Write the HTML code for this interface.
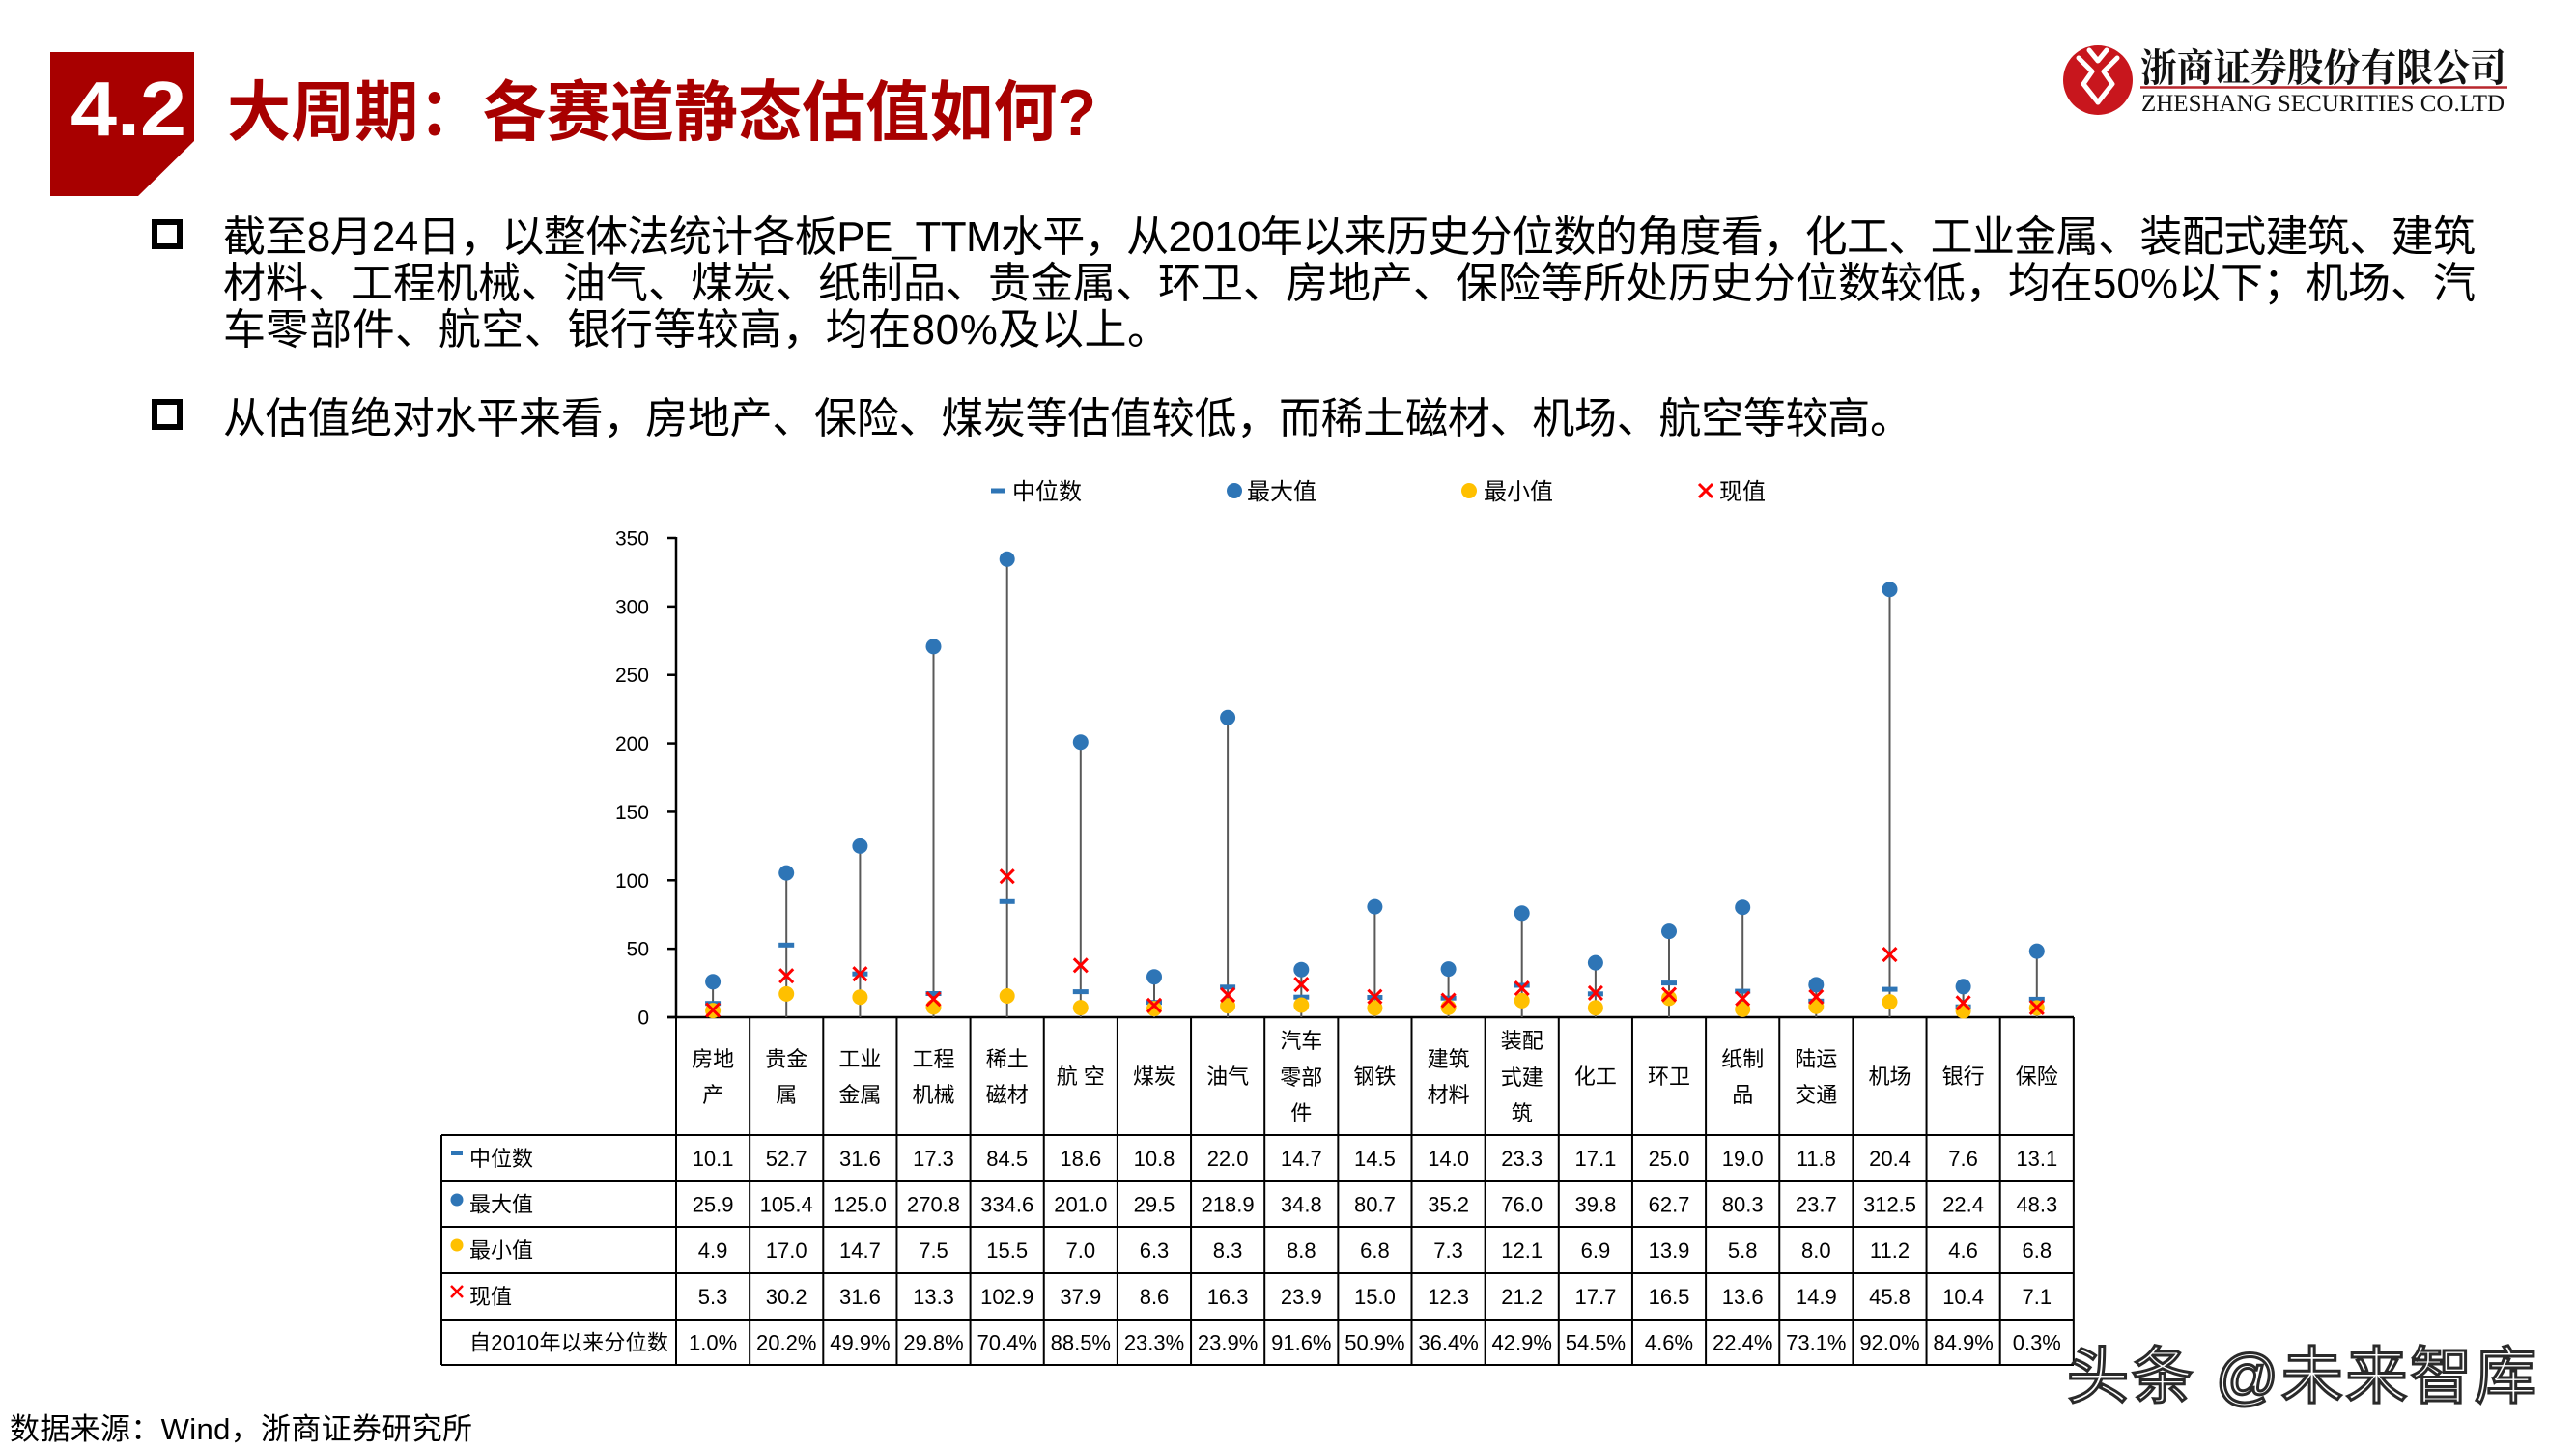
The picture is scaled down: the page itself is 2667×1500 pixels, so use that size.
<!DOCTYPE html>
<html>
<head>
<meta charset="utf-8">
<style>
  html,body{margin:0;padding:0;background:#fff;}
  svg{display:block;}
  .cjk{font-family:"Liberation Sans","Noto Sans CJK SC",sans-serif;}
</style>
</head>
<body>
<svg width="2667" height="1500" viewBox="0 0 2667 1500" xmlns="http://www.w3.org/2000/svg" font-family="Liberation Sans, Noto Sans CJK SC, sans-serif">
  <rect x="0" y="0" width="2667" height="1500" fill="#fff"/>

  <!-- Header block -->
  <polygon points="52,54 201,54 201,146 143,203 52,203" fill="#A80000"/>
  <text x="73" y="140" font-size="80" font-weight="bold" fill="#fff" font-family="Liberation Sans, sans-serif" textLength="120" lengthAdjust="spacingAndGlyphs">4.2</text>
  <text x="235" y="140" font-size="68" font-weight="bold" fill="#A80000" textLength="900" lengthAdjust="spacingAndGlyphs" font-family="Liberation Sans, Noto Sans CJK SC, sans-serif">大周期：各赛道静态估值如何?</text>

  <!-- Logo -->
  <circle cx="2172" cy="83" r="36" fill="#C8161D"/>
  <g stroke="#fff" stroke-width="5" fill="none" stroke-linejoin="round" stroke-linecap="round">
    <path d="M2152,60 L2166,74 L2157,87 L2172,106"/>
    <path d="M2192,60 L2178,74 L2187,87 L2172,106"/>
    <path d="M2163,52 L2172,63 L2181,52"/>
  </g>
  <text x="2216" y="84" font-size="40" font-weight="bold" fill="#111" font-family="Liberation Serif, Noto Serif CJK SC, serif" textLength="379" lengthAdjust="spacingAndGlyphs">浙商证券股份有限公司</text>
  <line x1="2216" y1="90.5" x2="2596" y2="90.5" stroke="#B8272D" stroke-width="2.5"/>
  <text x="2217" y="115" font-size="25" fill="#111" font-family="Liberation Serif, serif" textLength="376" lengthAdjust="spacingAndGlyphs">ZHESHANG SECURITIES CO.LTD</text>

  <!-- Bullets -->
  <rect x="160" y="230" width="26" height="25" fill="none" stroke="#000" stroke-width="6"/>
  <rect x="160" y="416" width="26" height="26" fill="none" stroke="#000" stroke-width="6"/>
  <g font-size="44" fill="#000">
    <text x="231" y="260" textLength="2332" lengthAdjust="spacing">截至8月24日，以整体法统计各板PE_TTM水平，从2010年以来历史分位数的角度看，化工、工业金属、装配式建筑、建筑</text>
    <text x="231" y="308" textLength="2332" lengthAdjust="spacing">材料、工程机械、油气、煤炭、纸制品、贵金属、环卫、房地产、保险等所处历史分位数较低，均在50%以下；机场、汽</text>
    <text x="231" y="356" textLength="980" lengthAdjust="spacing">车零部件、航空、银行等较高，均在80%及以上。</text>
    <text x="231" y="448" textLength="1749" lengthAdjust="spacing">从估值绝对水平来看，房地产、保险、煤炭等估值较低，而稀土磁材、机场、航空等较高。</text>
  </g>

  <!-- Legend -->
  <rect x="1026" y="505.5" width="14" height="5" fill="#2E75B6"/>
  <text x="1048" y="517" font-size="24" fill="#000">中位数</text>
  <circle cx="1278" cy="508" r="8" fill="#2E75B6"/>
  <text x="1291" y="517" font-size="24" fill="#000">最大值</text>
  <circle cx="1521" cy="508" r="8" fill="#FFC000"/>
  <text x="1536" y="517" font-size="24" fill="#000">最小值</text>
  <path d="M1759,501 L1773,515 M1773,501 L1759,515" stroke="#FF0000" stroke-width="3"/>
  <text x="1780" y="517" font-size="24" fill="#000">现值</text>

  <!-- Y axis -->
  <line x1="700" y1="556" x2="700" y2="1054" stroke="#000" stroke-width="2.5"/>
  <g stroke="#000" stroke-width="2.5">
    <line x1="691" y1="1053" x2="700" y2="1053"/>
    <line x1="691" y1="982.15" x2="700" y2="982.15"/>
    <line x1="691" y1="911.29" x2="700" y2="911.29"/>
    <line x1="691" y1="840.44" x2="700" y2="840.44"/>
    <line x1="691" y1="769.58" x2="700" y2="769.58"/>
    <line x1="691" y1="698.73" x2="700" y2="698.73"/>
    <line x1="691" y1="627.87" x2="700" y2="627.87"/>
    <line x1="691" y1="557" x2="700" y2="557"/>
  </g>
  <g font-size="21" fill="#000" text-anchor="end" font-family="Liberation Sans, sans-serif">
    <text x="672" y="1060.5">0</text>
    <text x="672" y="989.6">50</text>
    <text x="672" y="918.8">100</text>
    <text x="672" y="847.9">150</text>
    <text x="672" y="777.1">200</text>
    <text x="672" y="706.2">250</text>
    <text x="672" y="635.4">300</text>
    <text x="672" y="564.5">350</text>
  </g>

  <!-- Table grid -->
  <g stroke="#000" stroke-width="2">
    <line x1="691" y1="1053" x2="2147" y2="1053" stroke-width="2.5"/>
    <line x1="457" y1="1175" x2="2147" y2="1175"/>
    <line x1="457" y1="1223" x2="2147" y2="1223"/>
    <line x1="457" y1="1270" x2="2147" y2="1270"/>
    <line x1="457" y1="1318" x2="2147" y2="1318"/>
    <line x1="457" y1="1366" x2="2147" y2="1366"/>
    <line x1="457" y1="1413" x2="2147" y2="1413"/>
    <line x1="457" y1="1175" x2="457" y2="1413"/>
    <line x1="700" y1="1053" x2="700" y2="1413"/>
    <line x1="776.15" y1="1053" x2="776.15" y2="1413"/>
    <line x1="852.3" y1="1053" x2="852.3" y2="1413"/>
    <line x1="928.45" y1="1053" x2="928.45" y2="1413"/>
    <line x1="1004.6" y1="1053" x2="1004.6" y2="1413"/>
    <line x1="1080.75" y1="1053" x2="1080.75" y2="1413"/>
    <line x1="1156.9" y1="1053" x2="1156.9" y2="1413"/>
    <line x1="1233.05" y1="1053" x2="1233.05" y2="1413"/>
    <line x1="1309.2" y1="1053" x2="1309.2" y2="1413"/>
    <line x1="1385.35" y1="1053" x2="1385.35" y2="1413"/>
    <line x1="1461.5" y1="1053" x2="1461.5" y2="1413"/>
    <line x1="1537.65" y1="1053" x2="1537.65" y2="1413"/>
    <line x1="1613.8" y1="1053" x2="1613.8" y2="1413"/>
    <line x1="1689.95" y1="1053" x2="1689.95" y2="1413"/>
    <line x1="1766.1" y1="1053" x2="1766.1" y2="1413"/>
    <line x1="1842.25" y1="1053" x2="1842.25" y2="1413"/>
    <line x1="1918.4" y1="1053" x2="1918.4" y2="1413"/>
    <line x1="1994.55" y1="1053" x2="1994.55" y2="1413"/>
    <line x1="2070.7" y1="1053" x2="2070.7" y2="1413"/>
    <line x1="2146.85" y1="1053" x2="2146.85" y2="1413"/>
  </g>

  <!-- Row labels -->
  <rect x="467" y="1192" width="12" height="4" fill="#2E75B6"/>
  <circle cx="473" cy="1242" r="6.5" fill="#2E75B6"/>
  <circle cx="473" cy="1289" r="6.5" fill="#FFC000"/>
  <path d="M467,1331 L479,1343 M479,1331 L467,1343" stroke="#FF0000" stroke-width="2.5"/>
  <g font-size="22" fill="#000">
    <text x="486" y="1207">中位数</text>
    <text x="486" y="1254.5">最大值</text>
    <text x="486" y="1302">最小值</text>
    <text x="486" y="1350">现值</text>
    <text x="486" y="1397.5" textLength="206" lengthAdjust="spacing">自2010年以来分位数</text>
  </g>

  <!-- Columns: lines, markers, header & data text -->
  <g font-size="22" fill="#000" text-anchor="middle">
    <!-- 0 房地产 -->
    <g transform="translate(738.1,0)">
      <line x1="0" y1="1053" x2="0" y2="1016.3" stroke="#595959" stroke-width="2"/>
      <rect x="-8" y="1036.2" width="16" height="5" fill="#2E75B6"/>
      <circle cx="0" cy="1016.3" r="8" fill="#2E75B6"/>
      <circle cx="0" cy="1046.1" r="8" fill="#FFC000"/>
      <path d="M-7,1038.5 L7,1052.5 M7,1038.5 L-7,1052.5" stroke="#FF0000" stroke-width="3"/>
      <text x="0" y="1104">房地</text><text x="0" y="1141">产</text>
      <text x="0" y="1207">10.1</text><text x="0" y="1254.5">25.9</text><text x="0" y="1302">4.9</text><text x="0" y="1350">5.3</text><text x="0" y="1397.5">1.0%</text>
    </g>
    <!-- 1 贵金属 -->
    <g transform="translate(814.2,0)">
      <line x1="0" y1="1053" x2="0" y2="903.6" stroke="#595959" stroke-width="2"/>
      <rect x="-8" y="975.8" width="16" height="5" fill="#2E75B6"/>
      <circle cx="0" cy="903.6" r="8" fill="#2E75B6"/>
      <circle cx="0" cy="1028.9" r="8" fill="#FFC000"/>
      <path d="M-7,1003.2 L7,1017.2 M7,1003.2 L-7,1017.2" stroke="#FF0000" stroke-width="3"/>
      <text x="0" y="1104">贵金</text><text x="0" y="1141">属</text>
      <text x="0" y="1207">52.7</text><text x="0" y="1254.5">105.4</text><text x="0" y="1302">17.0</text><text x="0" y="1350">30.2</text><text x="0" y="1397.5">20.2%</text>
    </g>
    <!-- 2 工业金属 -->
    <g transform="translate(890.4,0)">
      <line x1="0" y1="1053" x2="0" y2="875.9" stroke="#595959" stroke-width="2"/>
      <rect x="-8" y="1005.7" width="16" height="5" fill="#2E75B6"/>
      <circle cx="0" cy="875.9" r="8" fill="#2E75B6"/>
      <circle cx="0" cy="1032.2" r="8" fill="#FFC000"/>
      <path d="M-7,1001.2 L7,1015.2 M7,1001.2 L-7,1015.2" stroke="#FF0000" stroke-width="3"/>
      <text x="0" y="1104">工业</text><text x="0" y="1141">金属</text>
      <text x="0" y="1207">31.6</text><text x="0" y="1254.5">125.0</text><text x="0" y="1302">14.7</text><text x="0" y="1350">31.6</text><text x="0" y="1397.5">49.9%</text>
    </g>
    <!-- 3 工程机械 -->
    <g transform="translate(966.5,0)">
      <line x1="0" y1="1053" x2="0" y2="669.3" stroke="#595959" stroke-width="2"/>
      <rect x="-8" y="1026" width="16" height="5" fill="#2E75B6"/>
      <circle cx="0" cy="669.3" r="8" fill="#2E75B6"/>
      <circle cx="0" cy="1042.4" r="8" fill="#FFC000"/>
      <path d="M-7,1027.2 L7,1041.2 M7,1027.2 L-7,1041.2" stroke="#FF0000" stroke-width="3"/>
      <text x="0" y="1104">工程</text><text x="0" y="1141">机械</text>
      <text x="0" y="1207">17.3</text><text x="0" y="1254.5">270.8</text><text x="0" y="1302">7.5</text><text x="0" y="1350">13.3</text><text x="0" y="1397.5">29.8%</text>
    </g>
    <!-- 4 稀土磁材 -->
    <g transform="translate(1042.7,0)">
      <line x1="0" y1="1053" x2="0" y2="578.8" stroke="#595959" stroke-width="2"/>
      <rect x="-8" y="930.8" width="16" height="5" fill="#2E75B6"/>
      <circle cx="0" cy="578.8" r="8" fill="#2E75B6"/>
      <circle cx="0" cy="1031" r="8" fill="#FFC000"/>
      <path d="M-7,900.2 L7,914.2 M7,900.2 L-7,914.2" stroke="#FF0000" stroke-width="3"/>
      <text x="0" y="1104">稀土</text><text x="0" y="1141">磁材</text>
      <text x="0" y="1207">84.5</text><text x="0" y="1254.5">334.6</text><text x="0" y="1302">15.5</text><text x="0" y="1350">102.9</text><text x="0" y="1397.5">70.4%</text>
    </g>
    <!-- 5 航空 -->
    <g transform="translate(1118.8,0)">
      <line x1="0" y1="1053" x2="0" y2="768.2" stroke="#595959" stroke-width="2"/>
      <rect x="-8" y="1024.1" width="16" height="5" fill="#2E75B6"/>
      <circle cx="0" cy="768.2" r="8" fill="#2E75B6"/>
      <circle cx="0" cy="1043.1" r="8" fill="#FFC000"/>
      <path d="M-7,992.3 L7,1006.3 M7,992.3 L-7,1006.3" stroke="#FF0000" stroke-width="3"/>
      <text x="0" y="1122">航 空</text>
      <text x="0" y="1207">18.6</text><text x="0" y="1254.5">201.0</text><text x="0" y="1302">7.0</text><text x="0" y="1350">37.9</text><text x="0" y="1397.5">88.5%</text>
    </g>
    <!-- 6 煤炭 -->
    <g transform="translate(1195.0,0)">
      <line x1="0" y1="1053" x2="0" y2="1011.2" stroke="#595959" stroke-width="2"/>
      <rect x="-8" y="1035.2" width="16" height="5" fill="#2E75B6"/>
      <circle cx="0" cy="1011.2" r="8" fill="#2E75B6"/>
      <circle cx="0" cy="1044.1" r="8" fill="#FFC000"/>
      <path d="M-7,1033.8 L7,1047.8 M7,1033.8 L-7,1047.8" stroke="#FF0000" stroke-width="3"/>
      <text x="0" y="1122">煤炭</text>
      <text x="0" y="1207">10.8</text><text x="0" y="1254.5">29.5</text><text x="0" y="1302">6.3</text><text x="0" y="1350">8.6</text><text x="0" y="1397.5">23.3%</text>
    </g>
    <!-- 7 油气 -->
    <g transform="translate(1271.1,0)">
      <line x1="0" y1="1053" x2="0" y2="742.8" stroke="#595959" stroke-width="2"/>
      <rect x="-8" y="1019.3" width="16" height="5" fill="#2E75B6"/>
      <circle cx="0" cy="742.8" r="8" fill="#2E75B6"/>
      <circle cx="0" cy="1041.2" r="8" fill="#FFC000"/>
      <path d="M-7,1022.9 L7,1036.9 M7,1022.9 L-7,1036.9" stroke="#FF0000" stroke-width="3"/>
      <text x="0" y="1122">油气</text>
      <text x="0" y="1207">22.0</text><text x="0" y="1254.5">218.9</text><text x="0" y="1302">8.3</text><text x="0" y="1350">16.3</text><text x="0" y="1397.5">23.9%</text>
    </g>
    <!-- 8 汽车零部件 -->
    <g transform="translate(1347.3,0)">
      <line x1="0" y1="1053" x2="0" y2="1003.7" stroke="#595959" stroke-width="2"/>
      <rect x="-8" y="1029.7" width="16" height="5" fill="#2E75B6"/>
      <circle cx="0" cy="1003.7" r="8" fill="#2E75B6"/>
      <circle cx="0" cy="1040.5" r="8" fill="#FFC000"/>
      <path d="M-7,1012.1 L7,1026.1 M7,1012.1 L-7,1026.1" stroke="#FF0000" stroke-width="3"/>
      <text x="0" y="1085">汽车</text><text x="0" y="1123">零部</text><text x="0" y="1160">件</text>
      <text x="0" y="1207">14.7</text><text x="0" y="1254.5">34.8</text><text x="0" y="1302">8.8</text><text x="0" y="1350">23.9</text><text x="0" y="1397.5">91.6%</text>
    </g>
    <!-- 9 钢铁 -->
    <g transform="translate(1423.4,0)">
      <line x1="0" y1="1053" x2="0" y2="938.6" stroke="#595959" stroke-width="2"/>
      <rect x="-8" y="1030" width="16" height="5" fill="#2E75B6"/>
      <circle cx="0" cy="938.6" r="8" fill="#2E75B6"/>
      <circle cx="0" cy="1043.4" r="8" fill="#FFC000"/>
      <path d="M-7,1024.7 L7,1038.7 M7,1024.7 L-7,1038.7" stroke="#FF0000" stroke-width="3"/>
      <text x="0" y="1122">钢铁</text>
      <text x="0" y="1207">14.5</text><text x="0" y="1254.5">80.7</text><text x="0" y="1302">6.8</text><text x="0" y="1350">15.0</text><text x="0" y="1397.5">50.9%</text>
    </g>
    <!-- 10 建筑材料 -->
    <g transform="translate(1499.6,0)">
      <line x1="0" y1="1053" x2="0" y2="1003.1" stroke="#595959" stroke-width="2"/>
      <rect x="-8" y="1030.7" width="16" height="5" fill="#2E75B6"/>
      <circle cx="0" cy="1003.1" r="8" fill="#2E75B6"/>
      <circle cx="0" cy="1042.7" r="8" fill="#FFC000"/>
      <path d="M-7,1028.6 L7,1042.6 M7,1028.6 L-7,1042.6" stroke="#FF0000" stroke-width="3"/>
      <text x="0" y="1104">建筑</text><text x="0" y="1141">材料</text>
      <text x="0" y="1207">14.0</text><text x="0" y="1254.5">35.2</text><text x="0" y="1302">7.3</text><text x="0" y="1350">12.3</text><text x="0" y="1397.5">36.4%</text>
    </g>
    <!-- 11 装配式建筑 -->
    <g transform="translate(1575.7,0)">
      <line x1="0" y1="1053" x2="0" y2="945.3" stroke="#595959" stroke-width="2"/>
      <rect x="-8" y="1017.5" width="16" height="5" fill="#2E75B6"/>
      <circle cx="0" cy="945.3" r="8" fill="#2E75B6"/>
      <circle cx="0" cy="1035.9" r="8" fill="#FFC000"/>
      <path d="M-7,1016 L7,1030 M7,1016 L-7,1030" stroke="#FF0000" stroke-width="3"/>
      <text x="0" y="1085">装配</text><text x="0" y="1123">式建</text><text x="0" y="1160">筑</text>
      <text x="0" y="1207">23.3</text><text x="0" y="1254.5">76.0</text><text x="0" y="1302">12.1</text><text x="0" y="1350">21.2</text><text x="0" y="1397.5">42.9%</text>
    </g>
    <!-- 12 化工 -->
    <g transform="translate(1651.9,0)">
      <line x1="0" y1="1053" x2="0" y2="996.6" stroke="#595959" stroke-width="2"/>
      <rect x="-8" y="1026.3" width="16" height="5" fill="#2E75B6"/>
      <circle cx="0" cy="996.6" r="8" fill="#2E75B6"/>
      <circle cx="0" cy="1043.2" r="8" fill="#FFC000"/>
      <path d="M-7,1020.9 L7,1034.9 M7,1020.9 L-7,1034.9" stroke="#FF0000" stroke-width="3"/>
      <text x="0" y="1122">化工</text>
      <text x="0" y="1207">17.1</text><text x="0" y="1254.5">39.8</text><text x="0" y="1302">6.9</text><text x="0" y="1350">17.7</text><text x="0" y="1397.5">54.5%</text>
    </g>
    <!-- 13 环卫 -->
    <g transform="translate(1728.0,0)">
      <line x1="0" y1="1053" x2="0" y2="964.1" stroke="#595959" stroke-width="2"/>
      <rect x="-8" y="1015.1" width="16" height="5" fill="#2E75B6"/>
      <circle cx="0" cy="964.1" r="8" fill="#2E75B6"/>
      <circle cx="0" cy="1033.3" r="8" fill="#FFC000"/>
      <path d="M-7,1022.6 L7,1036.6 M7,1022.6 L-7,1036.6" stroke="#FF0000" stroke-width="3"/>
      <text x="0" y="1122">环卫</text>
      <text x="0" y="1207">25.0</text><text x="0" y="1254.5">62.7</text><text x="0" y="1302">13.9</text><text x="0" y="1350">16.5</text><text x="0" y="1397.5">4.6%</text>
    </g>
    <!-- 14 纸制品 -->
    <g transform="translate(1804.2,0)">
      <line x1="0" y1="1053" x2="0" y2="939.2" stroke="#595959" stroke-width="2"/>
      <rect x="-8" y="1023.6" width="16" height="5" fill="#2E75B6"/>
      <circle cx="0" cy="939.2" r="8" fill="#2E75B6"/>
      <circle cx="0" cy="1044.8" r="8" fill="#FFC000"/>
      <path d="M-7,1026.7 L7,1040.7 M7,1026.7 L-7,1040.7" stroke="#FF0000" stroke-width="3"/>
      <text x="0" y="1104">纸制</text><text x="0" y="1141">品</text>
      <text x="0" y="1207">19.0</text><text x="0" y="1254.5">80.3</text><text x="0" y="1302">5.8</text><text x="0" y="1350">13.6</text><text x="0" y="1397.5">22.4%</text>
    </g>
    <!-- 15 陆运交通 -->
    <g transform="translate(1880.3,0)">
      <line x1="0" y1="1053" x2="0" y2="1019.4" stroke="#595959" stroke-width="2"/>
      <rect x="-8" y="1033.8" width="16" height="5" fill="#2E75B6"/>
      <circle cx="0" cy="1019.4" r="8" fill="#2E75B6"/>
      <circle cx="0" cy="1041.7" r="8" fill="#FFC000"/>
      <path d="M-7,1024.9 L7,1038.9 M7,1024.9 L-7,1038.9" stroke="#FF0000" stroke-width="3"/>
      <text x="0" y="1104">陆运</text><text x="0" y="1141">交通</text>
      <text x="0" y="1207">11.8</text><text x="0" y="1254.5">23.7</text><text x="0" y="1302">8.0</text><text x="0" y="1350">14.9</text><text x="0" y="1397.5">73.1%</text>
    </g>
    <!-- 16 机场 -->
    <g transform="translate(1956.5,0)">
      <line x1="0" y1="1053" x2="0" y2="610.2" stroke="#595959" stroke-width="2"/>
      <rect x="-8" y="1021.6" width="16" height="5" fill="#2E75B6"/>
      <circle cx="0" cy="610.2" r="8" fill="#2E75B6"/>
      <circle cx="0" cy="1037.1" r="8" fill="#FFC000"/>
      <path d="M-7,981.1 L7,995.1 M7,981.1 L-7,995.1" stroke="#FF0000" stroke-width="3"/>
      <text x="0" y="1122">机场</text>
      <text x="0" y="1207">20.4</text><text x="0" y="1254.5">312.5</text><text x="0" y="1302">11.2</text><text x="0" y="1350">45.8</text><text x="0" y="1397.5">92.0%</text>
    </g>
    <!-- 17 银行 -->
    <g transform="translate(2032.6,0)">
      <line x1="0" y1="1053" x2="0" y2="1021.3" stroke="#595959" stroke-width="2"/>
      <rect x="-8" y="1039.7" width="16" height="5" fill="#2E75B6"/>
      <circle cx="0" cy="1021.3" r="8" fill="#2E75B6"/>
      <circle cx="0" cy="1046.5" r="8" fill="#FFC000"/>
      <path d="M-7,1031.3 L7,1045.3 M7,1031.3 L-7,1045.3" stroke="#FF0000" stroke-width="3"/>
      <text x="0" y="1122">银行</text>
      <text x="0" y="1207">7.6</text><text x="0" y="1254.5">22.4</text><text x="0" y="1302">4.6</text><text x="0" y="1350">10.4</text><text x="0" y="1397.5">84.9%</text>
    </g>
    <!-- 18 保险 -->
    <g transform="translate(2108.8,0)">
      <line x1="0" y1="1053" x2="0" y2="984.6" stroke="#595959" stroke-width="2"/>
      <rect x="-8" y="1031.9" width="16" height="5" fill="#2E75B6"/>
      <circle cx="0" cy="984.6" r="8" fill="#2E75B6"/>
      <circle cx="0" cy="1043.4" r="8" fill="#FFC000"/>
      <path d="M-7,1035.9 L7,1049.9 M7,1035.9 L-7,1049.9" stroke="#FF0000" stroke-width="3"/>
      <text x="0" y="1122">保险</text>
      <text x="0" y="1207">13.1</text><text x="0" y="1254.5">48.3</text><text x="0" y="1302">6.8</text><text x="0" y="1350">7.1</text><text x="0" y="1397.5">0.3%</text>
    </g>
  </g>

  <!-- Source -->
  <text x="10" y="1490" font-size="31" fill="#000" textLength="479" lengthAdjust="spacing">数据来源：Wind，浙商证券研究所</text>

  <!-- Watermark -->
  <text x="2140" y="1447" font-size="64" fill="#ffffff" stroke="#2a2a2a" stroke-width="3" textLength="486" lengthAdjust="spacing">头条 @未来智库</text>
</svg>
</body>
</html>
